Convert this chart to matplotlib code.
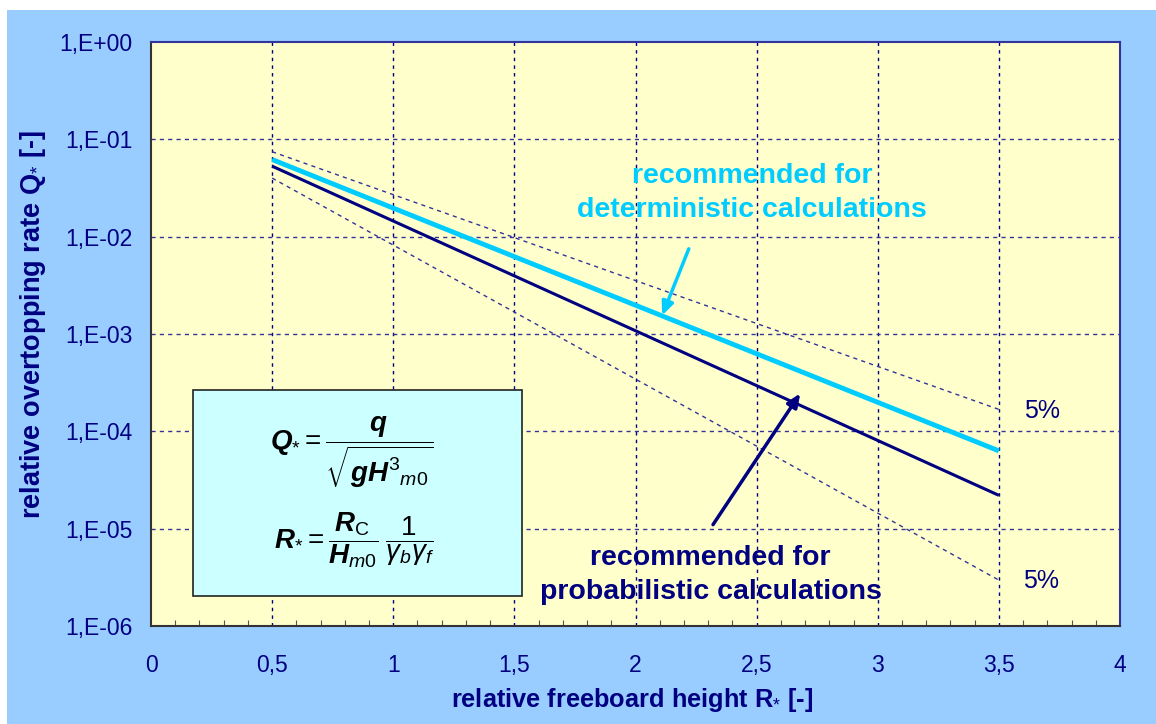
import matplotlib
matplotlib.use("Agg")
import matplotlib.pyplot as plt
from matplotlib.patches import Rectangle
from matplotlib.ticker import FixedLocator, MultipleLocator

plt.rcParams['font.family'] = ['Liberation Sans', 'DejaVu Sans']
plt.rcParams['mathtext.fontset'] = 'custom'
plt.rcParams['mathtext.rm'] = 'Liberation Sans'
plt.rcParams['mathtext.it'] = 'Liberation Sans:italic'
plt.rcParams['mathtext.bf'] = 'Liberation Sans:bold'
plt.rcParams['mathtext.bfit'] = 'Liberation Sans:bold:italic'

# ---- data ----
R_ends = [0.5, 3.5]
Q_deterministic = [0.062, 6.3e-5]
Q_probabilistic = [0.053, 2.2e-5]
Q_upper5 = [0.0746, 1.68e-4]
Q_lower5 = [0.040, 2.96e-6]
x_ticks = [0, 0.5, 1, 1.5, 2, 2.5, 3, 3.5, 4]
x_ticklabels = ['0', '0,5', '1', '1,5', '2', '2,5', '3', '3,5', '4']
y_ticks = [1e0, 1e-1, 1e-2, 1e-3, 1e-4, 1e-5, 1e-6]
y_ticklabels = ['1,E+00', '1,E-01', '1,E-02', '1,E-03', '1,E-04', '1,E-05', '1,E-06']

NAVY = '#000080'
CYAN = '#00CCFF'
GRID = '#333399'

W, H = 1156, 724
fig = plt.figure(figsize=(W / 100, H / 100), dpi=100)
fig.patch.set_facecolor('white')
fig.patches.append(Rectangle((7 / W, 0), 1 - 7 / W, 1 - 10 / H, transform=fig.transFigure,
                             facecolor='#99CCFF', edgecolor='none', zorder=-10))

left, right, top, bottom = 151, 1120, 42, 626
ax = fig.add_axes([left / W, 1 - bottom / H, (right - left) / W, (bottom - top) / H])
ax.set_facecolor('#FFFFCC')
ax.set_yscale('log')
ax.set_xlim(0, 4)
ax.set_ylim(1e-6, 1)

ax.xaxis.set_major_locator(FixedLocator(x_ticks))
ax.set_xticklabels(x_ticklabels)
ax.xaxis.set_minor_locator(MultipleLocator(0.1))
ax.yaxis.set_major_locator(FixedLocator(y_ticks))
ax.set_yticklabels(y_ticklabels)
ax.yaxis.set_minor_locator(FixedLocator([]))

ax.tick_params(axis='x', which='major', direction='in', length=0, colors=NAVY,
               labelsize=16.5, pad=20)
ax.tick_params(axis='x', which='minor', direction='in', length=4, color='#555555', width=0.8)
ax.tick_params(axis='y', which='major', direction='in', length=0, colors=NAVY,
               labelsize=16.5, pad=13.5)
ax.tick_params(top=False, right=False)

for xv in x_ticks[1:-1]:
    ax.axvline(xv, color=NAVY, lw=1.0, ls=(0, (2.5, 3)), zorder=1)
for yv in y_ticks[1:-1]:
    ax.axhline(yv, color=GRID, lw=1.0, ls=(0, (3, 3)), zorder=1)

for s in ['top', 'right']:
    ax.spines[s].set_color('#333399')
    ax.spines[s].set_linewidth(1.5)
for s in ['left', 'bottom']:
    ax.spines[s].set_color('#333333')
    ax.spines[s].set_linewidth(1.5)

ax.plot(R_ends, Q_upper5, color=GRID, lw=1.0, ls=(0, (3, 3)), zorder=2)
ax.plot(R_ends, Q_lower5, color=GRID, lw=1.0, ls=(0, (3, 3)), zorder=2)
ax.plot(R_ends, Q_deterministic, color=CYAN, lw=3.5, solid_capstyle='butt', zorder=3)
ax.plot(R_ends, Q_probabilistic, color=NAVY, lw=2.2, solid_capstyle='butt', zorder=3)

fig.text(632 / W, 1 - 700 / H, 'relative freeboard height R$_{*}$ [-]', fontsize=18.3,
         fontweight='bold', color=NAVY, ha='center', va='center')
fig.text(33 / W, 1 - 325 / H, 'relative overtopping rate Q$_{*}$ [-]', fontsize=19.5,
         fontweight='bold', color=NAVY, ha='center', va='center', rotation=90)

ax.text(3.605, 1.6e-4, '5%', fontsize=18, color=NAVY, va='center', ha='left')
ax.text(3.60, 2.9e-6, '5%', fontsize=18, color=NAVY, va='center', ha='left')

ax.text(2.48, 0.0281, 'recommended for\ndeterministic calculations', fontsize=20.5,
        fontweight='bold', color=CYAN, ha='center', va='center', linespacing=1.4)
ax.annotate('', xy=(2.11, 1.55e-3), xytext=(2.22, 7.5e-3),
            arrowprops=dict(arrowstyle='-|>,head_length=0.8,head_width=0.35', color=CYAN,
                            lw=2.5, shrinkA=0, shrinkB=0))

ax.text(2.31, 3.33e-6, 'recommended for\nprobabilistic calculations', fontsize=20.5,
        fontweight='bold', color=NAVY, ha='center', va='center', linespacing=1.4)
ax.annotate('', xy=(2.68, 2.45e-4), xytext=(2.32, 1.1e-5),
            arrowprops=dict(arrowstyle='-|>,head_length=0.8,head_width=0.35', color=NAVY,
                            lw=2.5, shrinkA=0, shrinkB=0))

# formula box
bx0, by0, bx1, by1 = 193, 390, 522, 596
fig.patches.append(Rectangle((bx0 / W, 1 - by1 / H), (bx1 - bx0) / W, (by1 - by0) / H,
                             transform=fig.transFigure, facecolor='#CCFFFF',
                             edgecolor='#222222', lw=1.2, zorder=5))
fig.text(352 / W, 1 - 452 / H,
         r'$\mathbfit{Q}_{*} = \dfrac{\mathbfit{q}}{\sqrt{\mathbfit{gH}^{3}{}_{m0}}}$',
         fontsize=20, ha='center', va='center', zorder=6)
fig.text(354 / W, 1 - 540 / H,
         r'$\mathbfit{R}_{*} = \dfrac{\mathbfit{R}_{\mathrm{C}}}{\mathbfit{H}_{m0}}\;\dfrac{1}{\gamma_{b}\gamma_{f}}$',
         fontsize=20, ha='center', va='center', zorder=6)

fig.savefig('out.png', dpi=100, facecolor=fig.get_facecolor())
